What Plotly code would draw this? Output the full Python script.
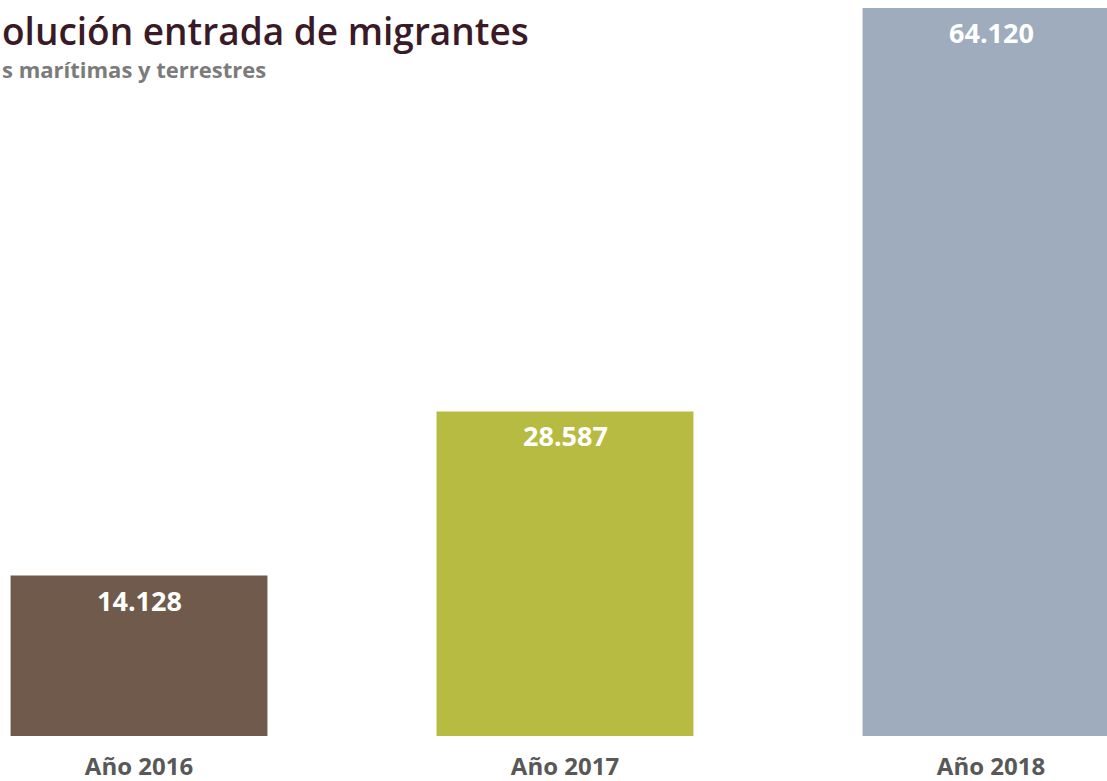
import plotly.graph_objects as go

categories = ["Año 2016", "Año 2017", "Año 2018"]
values = [14128, 28587, 64120]
colors = ["#6f5a4b", "#b8bb41", "#9eacbe"]

title_text = "olución entrada de migrantes"
subtitle_text = "s marítimas y terrestres"

W, H = 1107, 781


def fmt(v):
    return f"{v:,}".replace(",", ".")


fig = go.Figure(
    go.Bar(
        x=categories,
        y=values,
        marker=dict(color=colors, line=dict(width=0)),
        width=0.603,
        hoverinfo="x+y",
    )
)

value_annotations = [
    dict(
        x=c, y=v, xref="x", yref="y",
        text=fmt(v),
        xanchor="center", yanchor="top",
        yshift=-4,
        showarrow=False,
        font=dict(family="Open Sans", size=27, color="white", weight="bold"),
    )
    for c, v in zip(categories, values)
]

fig.update_layout(
    width=W,
    height=H,
    margin=dict(l=0, r=0, t=8, b=45),
    paper_bgcolor="white",
    plot_bgcolor="white",
    showlegend=False,
    xaxis=dict(
        range=[-0.3263, 2.2723],
        showgrid=False,
        zeroline=False,
        showline=False,
        ticks="",
        ticklabelstandoff=14,
        tickfont=dict(family="Open Sans", size=24, color="#585858", weight="bold"),
    ),
    yaxis=dict(
        range=[0, max(values)],
        visible=False,
    ),
    annotations=value_annotations + [
        dict(
            text=title_text,
            xref="paper", yref="paper",
            x=0, y=1 + 5 / 728,
            xanchor="left", yanchor="top",
            showarrow=False,
            font=dict(family="Open Sans", size=37, color="#3a1a26", weight=600),
        ),
        dict(
            text=subtitle_text,
            xref="paper", yref="paper",
            x=0, y=1 - 44 / 728,
            xanchor="left", yanchor="top",
            showarrow=False,
            font=dict(family="Open Sans", size=22, color="#7b7b7b", weight="bold"),
        ),
    ],
)

fig.write_html(
    "out.html",
    config={"displayModeBar": False},
    post_script="document.body.style.margin='0';",
)
